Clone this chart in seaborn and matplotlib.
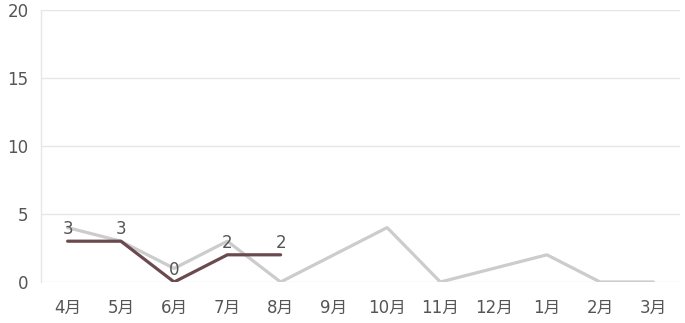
import matplotlib
matplotlib.use("Agg")
import matplotlib.pyplot as plt
import seaborn as sns
import pandas as pd

months = ["4月", "5月", "6月", "7月", "8月", "9月", "10月", "11月", "12月", "1月", "2月", "3月"]
prev_year = [4, 3, 1, 3, 0, 2, 4, 0, 1, 2, 0, 0]
this_year = [3, 3, 0, 2, 2]
y_ticks = [0, 5, 10, 15, 20]

sns.set_theme(style="white")
plt.rcParams['font.family'] = ['DejaVu Sans', 'Noto Sans CJK JP']

fig = plt.figure(figsize=(6.85, 3.23), dpi=100)
ax = fig.add_axes([41/685, 1 - 282/323, 639/685, 272/323])

df_prev = pd.DataFrame({"x": list(range(len(months))), "y": prev_year})
df_this = pd.DataFrame({"x": list(range(len(this_year))), "y": this_year})

sns.lineplot(data=df_prev, x="x", y="y", ax=ax, color="#cccccc", linewidth=2.3, zorder=2)
sns.lineplot(data=df_this, x="x", y="y", ax=ax, color="#6a4a4e", linewidth=2.3, zorder=3)

for i, v in enumerate(this_year):
    ax.annotate(str(v), (i, v), xytext=(0, 2), textcoords="offset points",
                ha="center", va="bottom", fontsize=12, color="#555555", zorder=4)

ax.set_xlim(-0.5, len(months) - 0.5)
ax.set_ylim(0, 20)
ax.set_xticks(range(len(months)))
ax.set_xticklabels(months)
ax.set_yticks(y_ticks)
ax.set_yticklabels([str(t) for t in y_ticks])
ax.set_xlabel("")
ax.set_ylabel("")
ax.tick_params(axis="both", length=0, labelsize=12, labelcolor="#555555")
ax.tick_params(axis="x", pad=12)
ax.tick_params(axis="y", pad=9)
ax.grid(axis="y", color="#e6e6e6", linewidth=1)
ax.set_axisbelow(True)
for s in ["top", "right", "bottom"]:
    ax.spines[s].set_visible(False)
ax.spines["left"].set_color("#e6e6e6")
ax.spines["left"].set_linewidth(1)

fig.savefig("out.png", dpi=100)
